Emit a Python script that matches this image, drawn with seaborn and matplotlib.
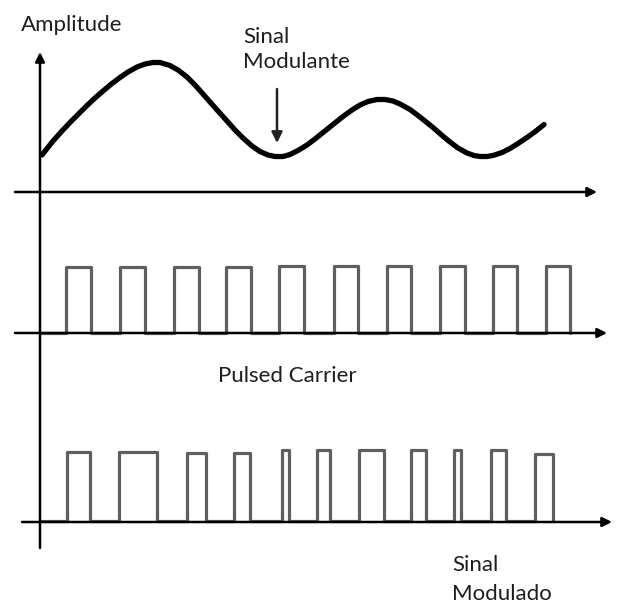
import numpy as np
import pandas as pd
import matplotlib.pyplot as plt
import seaborn as sns

# modulating signal, points (pixel coords, y down)
signal_x = [42, 53, 62, 70, 79, 87, 95, 103, 112, 120, 128, 137, 145, 153, 160, 170,
            178, 187, 195, 203, 210, 218, 227, 235, 243, 252, 260, 268, 275, 283, 290,
            298, 307, 315, 323, 333, 343, 352, 360, 368, 377, 385, 393, 400, 410, 420,
            433, 441, 450, 458, 467, 474, 480, 487, 493, 502, 510, 518, 527, 536, 544]
signal_y = [155, 141, 131, 122.5, 113.5, 105.5, 98, 91, 83.5, 77.5, 72, 67, 64, 62.5, 62.5, 65.5,
            70, 77, 85, 94, 102, 111, 121, 130, 138, 146, 151.5, 155, 156.5, 156.5, 154.5,
            150.5, 145, 139, 132.5, 124.5, 116.5, 110, 105, 101.5, 99.5, 99.5, 101, 104, 109.5, 117,
            127.5, 134.5, 142, 148, 153, 155.5, 156.5, 156.5, 155.5, 152.5, 148.5, 143.5, 137.5, 131, 124.5]

# pulsed carrier: rising / falling edges and pulse top
carrier_rise = [66, 120, 174, 226, 279, 334, 387, 440, 493, 546]
carrier_fall = [91, 145, 199, 251, 304, 358, 411, 465, 517, 570]
carrier_top = [267, 267, 267, 267, 266, 266, 266, 266, 266, 266]

# modulated (PWM) signal
modulated_rise = [67, 119, 187, 234, 282, 317, 359, 411, 454, 491, 535]
modulated_fall = [90, 157, 206, 250, 289, 330, 384, 426, 461, 506, 553]
modulated_top = [452, 452, 453, 453, 450, 450, 450, 450, 450, 450, 454]

carrier_base = 333
modulated_base = 521
axis_x = 40


def pulse_path(rise, fall, top, base, start):
    xs, ys = [start], [base]
    for r, f, t in zip(rise, fall, top):
        xs += [r, r, f, f]
        ys += [base, t, t, base]
    return pd.DataFrame({"x": xs, "y": ys})


sns.set_style("white")
plt.rcParams["font.family"] = ["Lato", "DejaVu Sans"]

fig = plt.figure(figsize=(6.19, 6.05), dpi=100)
ax = fig.add_axes([0, 0, 1, 1])
ax.set_xlim(0, 619)
ax.set_ylim(605, 0)
ax.axis("off")

# curves
sns.lineplot(x=signal_x, y=signal_y, sort=False, estimator=None, color="black",
             lw=3.8, ax=ax, solid_capstyle="round", solid_joinstyle="round")
sns.lineplot(data=pulse_path(carrier_rise, carrier_fall, carrier_top, carrier_base, axis_x),
             x="x", y="y", sort=False, estimator=None, color="#5f5f5f", lw=2.3, ax=ax)
sns.lineplot(data=pulse_path(modulated_rise, modulated_fall, modulated_top, modulated_base, axis_x),
             x="x", y="y", sort=False, estimator=None, color="#5f5f5f", lw=2.3, ax=ax)

# axes with arrows
arrow = dict(arrowstyle="-|>", lw=1.8, color="black", mutation_scale=14, shrinkA=0, shrinkB=0)
ax.annotate("", xy=(axis_x, 52), xytext=(axis_x, 548), arrowprops=arrow, zorder=5)
ax.annotate("", xy=(597, 192), xytext=(15, 192), arrowprops=arrow, zorder=5)
ax.annotate("", xy=(607, 333), xytext=(15, 333), arrowprops=arrow, zorder=5)
ax.annotate("", xy=(612, 522), xytext=(22, 522), arrowprops=arrow, zorder=5)

# pointer to the modulating signal
ax.annotate("", xy=(277, 143), xytext=(277, 89),
            arrowprops=dict(arrowstyle="-|>", lw=1.8, color="#222222",
                            mutation_scale=16, shrinkA=0, shrinkB=0))

txt = dict(fontsize=16, color="#1e1e1e", va="baseline", ha="left")
ax.text(21, 31, "Amplitude", **txt)
ax.text(243, 43, "Sinal", **txt)
ax.text(243, 68, "Modulante", **txt)
ax.text(218, 382, "Pulsed Carrier", **txt)
ax.text(452, 571, "Sinal", **txt)
ax.text(452, 600, "Modulado", **txt)

fig.savefig("out.png", dpi=100, facecolor="white")
